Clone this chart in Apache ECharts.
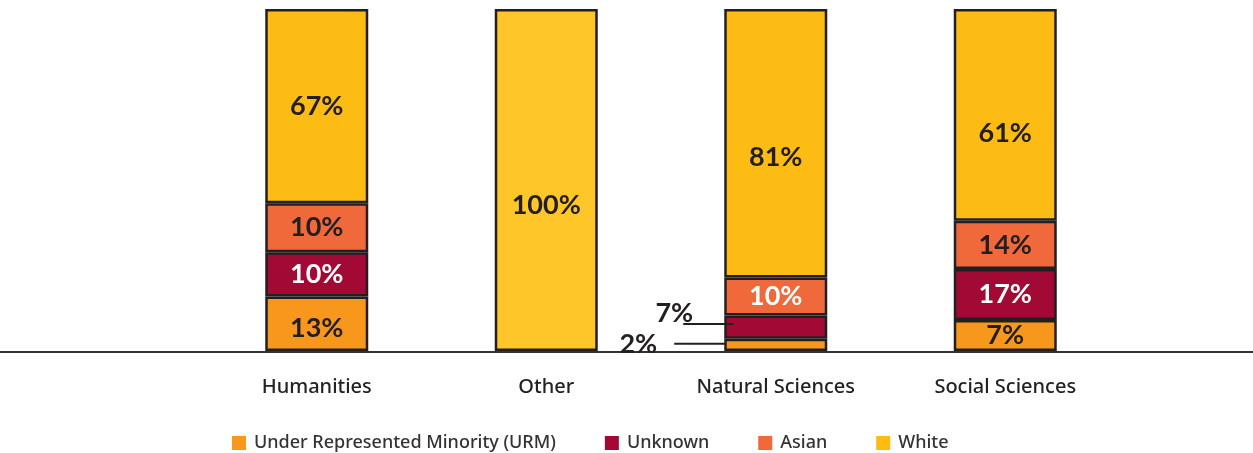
<!DOCTYPE html>
<html>
<head>
<meta charset="utf-8">
<script src="https://cdn.jsdelivr.net/npm/echarts@6/dist/echarts.min.js"></script>
<style>html,body{margin:0;padding:0;background:#fff}#c{width:1253px;height:453px}</style>
</head>
<body>
<div id="c"></div>
<script>
// Categories
var categories = ['Humanities', 'Other', 'Natural Sciences', 'Social Sciences'];
// Segment heights as drawn (share of bar)
var urmValues     = [15.9, null, 3.6, 9.1];
var unknownValues = [13.0, null, 6.8, 14.9];
var asianValues   = [14.3, null, 11.1, 14.1];
var whiteValues   = [56.8, 100, 78.5, 61.9];
// Printed percentage labels
var urmLabels     = ['13%', '', '2%', '7%'];
var unknownLabels = ['10%', '', '7%', '17%'];
var asianLabels   = ['10%', '', '10%', '14%'];
var whiteLabels   = ['67%', '100%', '81%', '61%'];
var seriesNames = ['Under Represented Minority (URM)', 'Unknown', 'Asian', 'White'];

var colors = ['#F7981C', '#A20A35', '#F0693A', '#FDBC14'];
var dark = '#231F20';
var labelFont = 'Lato';
var labelSize = 27;
// vertical nudges of the white-segment labels (style only)
var whiteLabelNudge = [0, 25, 14, 18];

function baseLabel(color) {
  return { show: true, position: 'inside', color: color, fontSize: labelSize, fontFamily: labelFont, fontWeight: 'bold' };
}

function makeData(values, labels, series) {
  return values.map(function (v, i) {
    var item = { value: v };
    var lbl = labels[i];
    var col = dark;
    if (series === 1 || (series === 2 && i === 2)) col = '#ffffff';
    var label = baseLabel(col);
    label.formatter = lbl;
    if (series === 3) label.offset = [0, whiteLabelNudge[i]];
    if (series === 0 && i === 0) label.offset = [0, 4];
    if (series === 0 && i === 2) {
      label = {
        show: true, position: 'left', distance: 0, offset: [1, -1],
        formatter: '{t|' + lbl + '}{l| }',
        rich: {
          t: { fontSize: labelSize, fontFamily: labelFont, fontWeight: 'bold', color: dark, padding: [0, 17, 0, 0] },
          l: { width: 51, height: 2, backgroundColor: dark, fontSize: 1, lineHeight: 2 }
        }
      };
    }
    if (series === 1 && i === 2) {
      label = {
        show: true, position: 'left', distance: 0, offset: [9, -13],
        formatter: '{t|' + lbl + '}\n{l| }',
        rich: {
          t: { fontSize: labelSize, fontFamily: labelFont, fontWeight: 'bold', color: dark, padding: [0, 40, 0, 0], lineHeight: 20 },
          l: { width: 50, height: 2, backgroundColor: dark, fontSize: 1, lineHeight: 2 }
        }
      };
    }
    item.label = label;
    if (series === 3 && i === 1) item.itemStyle = { color: '#FEC628' };
    return item;
  });
}

var valueSets = [urmValues, unknownValues, asianValues, whiteValues];
var labelSets = [urmLabels, unknownLabels, asianLabels, whiteLabels];

var series = valueSets.map(function (vals, s) {
  return {
    name: seriesNames[s],
    type: 'bar',
    stack: 'total',
    barWidth: 103,
    xAxisIndex: 0,
    yAxisIndex: 0,
    itemStyle: { color: colors[s], borderColor: dark, borderWidth: 2.5 },
    data: makeData(vals, labelSets[s], s),
    z: 3
  };
});

var chart = echarts.init(document.getElementById('c'), null, { renderer: 'canvas' });
chart.setOption({
  animation: false,
  backgroundColor: '#ffffff',
  color: colors,
  grid: [
    { left: 202, right: 133, top: 9, bottom: 102 },
    { left: 0, right: 0, top: 9, bottom: 101 }
  ],
  legend: {
    left: 227, top: 429,
    itemWidth: 14, itemHeight: 14, itemGap: 49,
    icon: 'rect',
    itemStyle: { borderWidth: 0 },
    textStyle: { fontFamily: 'Noto Sans', fontSize: 18, fontWeight: 500, color: '#333', padding: [0, 0, 0, 3] },
    data: seriesNames
  },
  xAxis: [
    {
      type: 'category', gridIndex: 0, data: categories,
      axisLine: { show: false }, axisTick: { show: false },
      axisLabel: { margin: 26, fontFamily: 'Noto Sans', fontSize: 20, fontWeight: 500, color: '#222' }
    },
    {
      type: 'value', gridIndex: 1, min: 0, max: 1, position: 'bottom',
      axisLine: { show: true, onZero: false, lineStyle: { color: '#333', width: 2 } },
      axisTick: { show: false }, axisLabel: { show: false }, splitLine: { show: false }
    }
  ],
  yAxis: [
    { type: 'value', gridIndex: 0, min: 0, max: 100, show: false },
    { type: 'value', gridIndex: 1, min: 0, max: 1, show: false }
  ],
  series: series
});
</script>
</body>
</html>
